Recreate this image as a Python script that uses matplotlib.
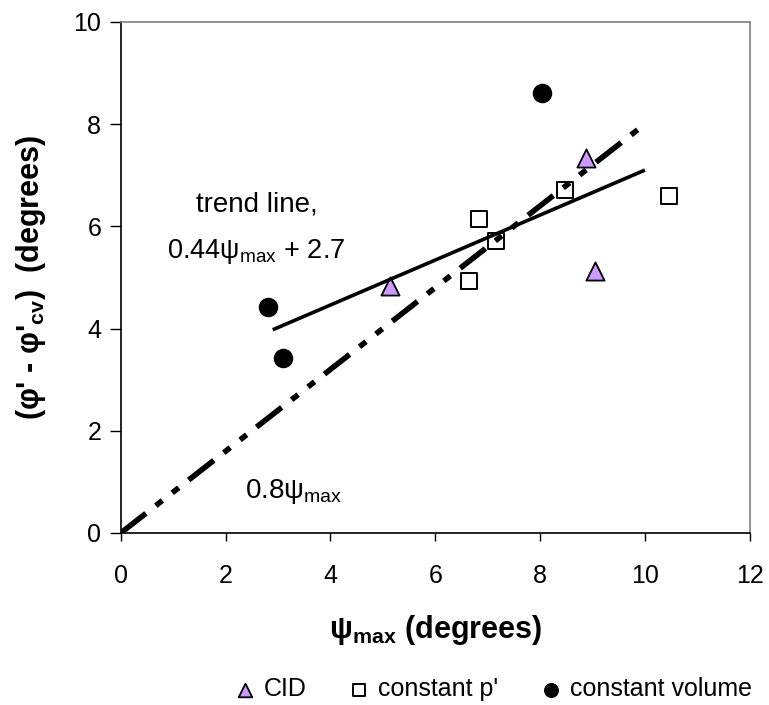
import matplotlib
matplotlib.use("Agg")
import matplotlib.pyplot as plt
import numpy as np

plt.rcParams['font.family'] = ['Liberation Sans', 'DejaVu Sans']
plt.rcParams['mathtext.fontset'] = 'custom'
plt.rcParams['mathtext.rm'] = 'Liberation Sans'
plt.rcParams['mathtext.it'] = 'Liberation Sans'
plt.rcParams['mathtext.bf'] = 'Liberation Sans:bold'
plt.rcParams['lines.scale_dashes'] = False

# Test series: psi_max (deg) vs (phi' - phi'_cv) (deg)
cid_x = [5.14, 8.88, 9.05]
cid_y = [4.83, 7.33, 5.12]
cp_x = [6.65, 6.83, 7.15, 8.47, 10.45]
cp_y = [4.93, 6.14, 5.71, 6.71, 6.60]
cv_x = [2.81, 3.10, 8.03]
cv_y = [4.42, 3.43, 8.61]

# Fitted trend and reference line
trend_slope, trend_icpt = 0.44, 2.7
trend_range = [2.9, 10.0]
ref_slope = 0.8
ref_range = [0.0, 10.0]

x_ticks = [0, 2, 4, 6, 8, 10, 12]
y_ticks = [0, 2, 4, 6, 8, 10]

fig = plt.figure(figsize=(7.69, 7.05), dpi=100)
ax = fig.add_axes([0.157, 0.244, 0.818, 0.725])

ax.scatter(cid_x, cid_y, marker='^', s=170, facecolor='#CC99FF',
           edgecolor='black', linewidth=1.3, zorder=3, label='CID')
ax.scatter(cp_x, cp_y, marker='s', s=140, facecolor='white',
           edgecolor='black', linewidth=1.4, zorder=3, label="constant p'")
ax.scatter(cv_x, cv_y, marker='o', s=170, facecolor='black',
           edgecolor='black', linewidth=1.0, zorder=3, label='constant volume')

tx = np.array(trend_range)
ax.plot(tx, trend_slope * tx + trend_icpt, color='black', lw=2.6, zorder=4,
        solid_capstyle='butt')
rx = np.array(ref_range)
ax.plot(rx, ref_slope * rx, color='black', lw=4.0, zorder=4,
        dashes=(23, 9, 6, 9, 6, 9), dash_capstyle='butt')

ax.text(2.6, 6.42, 'trend line,', fontsize=20, ha='center', va='center')
ax.text(2.58, 5.5, r'0.44$\mathregular{ψ_{max}}$ + 2.7', fontsize=19.5,
        ha='center', va='center')
ax.text(3.3, 0.82, r'0.8$\mathregular{ψ_{max}}$', fontsize=20,
        ha='center', va='center')

ax.set_xlim(0, 12)
ax.set_ylim(0, 10)
ax.set_xticks(x_ticks)
ax.set_yticks(y_ticks)
ax.tick_params(axis='x', direction='out', length=6, width=1, labelsize=18, pad=16)
ax.tick_params(axis='y', direction='out', length=8, width=1, labelsize=18, pad=6)

for side in ('top', 'right'):
    ax.spines[side].set_color('#808080')
for side in ('left', 'bottom'):
    ax.spines[side].set_color('black')
for sp in ax.spines.values():
    sp.set_linewidth(1.2)

ax.set_xlabel(r'$\mathbf{ψ_{max}}$ (degrees)', fontsize=22, fontweight='bold',
              labelpad=18)
ax.set_ylabel(r"(φ' - φ'$_{\mathbf{cv}}$)  (degrees)", fontsize=22,
              fontweight='bold', labelpad=18)

fig.legend(loc='center', bbox_to_anchor=(0.64, 0.022), ncol=3, frameon=False,
           fontsize=18, handletextpad=0.25, columnspacing=1.6, markerscale=0.75,
           handlelength=1.0)

fig.savefig('out.png', dpi=100, facecolor='white')
